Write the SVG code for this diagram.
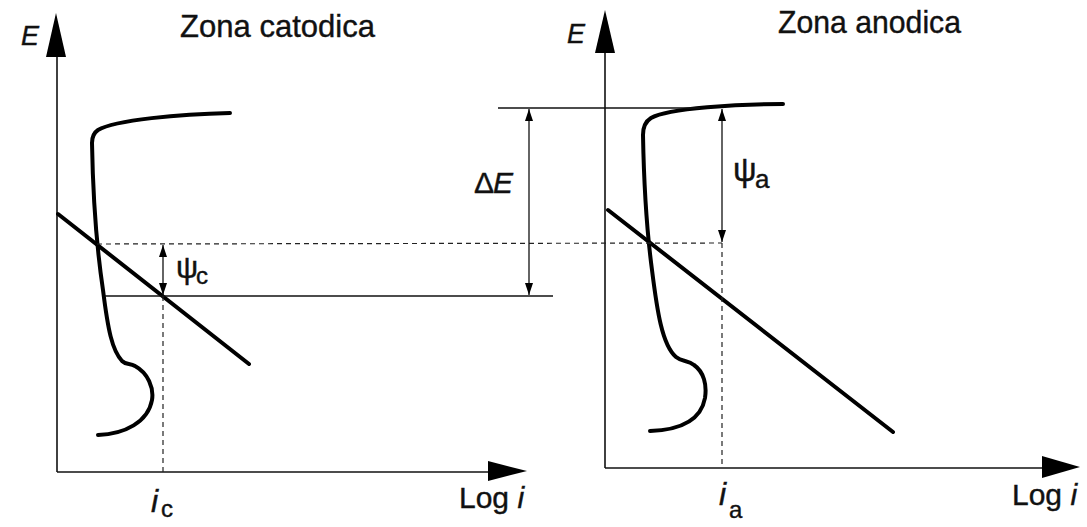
<svg xmlns="http://www.w3.org/2000/svg" width="1087" height="527" viewBox="0 0 1087 527">
<style>
.axis{stroke:#111;stroke-width:1.6;fill:none}
.thin{stroke:#111;stroke-width:1.3;fill:none}
.dash{stroke:#222;stroke-width:1.2;fill:none;stroke-dasharray:5 4}
.thick{stroke:#000;stroke-width:4;fill:none;stroke-linecap:round;stroke-linejoin:round}
.head{fill:#000}
.dim{stroke:#111;stroke-width:1.3;fill:none;marker-start:url(#ah);marker-end:url(#ah)}
text{font-family:"Liberation Sans",Arial,sans-serif;fill:#111;stroke:#111;stroke-width:0.4}
.it{font-style:italic}
</style>
<defs>
<marker id="ah" viewBox="0 0 12 8" refX="12" refY="4" markerWidth="12" markerHeight="8" markerUnits="userSpaceOnUse" orient="auto-start-reverse">
<path d="M0,0 L12,4 L0,8 z" fill="#000"/>
</marker>
</defs>
<rect width="1087" height="527" fill="#fff"/>

<g id="left-plot">
<g id="left-axes">
<line class="axis" x1="57" y1="472" x2="57" y2="50"/>
<polygon class="head" points="56,13 46,57 66,57"/>
<line class="axis" x1="57" y1="472" x2="492" y2="472"/>
<polygon class="head" points="527,471 488,461 488,481"/>
<text x="21" y="45" font-size="27" class="it">E</text>
<text x="459" y="508" font-size="30">Log <tspan class="it">i</tspan></text>
<text x="151" y="512" font-size="32" class="it">i</text>
<text x="161" y="517" font-size="24">c</text>
</g>
<text id="title-cat" x="180" y="37" font-size="32" textLength="195" lengthAdjust="spacingAndGlyphs">Zona catodica</text>
<path id="cathodic-curve" class="thick" d="M230,113 C180,114 115,120 98,130 Q92,134 92,143 C93,200 97,250 103,290 C108,330 112,350 122,361 C126,365 130,363 135,366 C148,373 154,388 152,400 C148,422 125,434 98,435"/>
<line id="cathodic-line" class="thick" x1="58" y1="214" x2="249" y2="364"/>
</g>

<g id="right-plot">
<g id="right-axes">
<line class="axis" x1="605" y1="468" x2="605" y2="48"/>
<polygon class="head" points="605,10 595,53 615,53"/>
<line class="axis" x1="605" y1="468" x2="1046" y2="468"/>
<polygon class="head" points="1080,467 1042,456 1042,478"/>
<text x="567" y="43" font-size="27" class="it">E</text>
<text x="1012" y="505" font-size="30">Log <tspan class="it">i</tspan></text>
<text x="719" y="505" font-size="32" class="it">i</text>
<text x="729" y="518" font-size="24">a</text>
</g>
<text id="title-an" x="778" y="33" font-size="32" textLength="183" lengthAdjust="spacingAndGlyphs">Zona anodica</text>
<path id="anodic-curve" class="thick" d="M783,104 C740,104 668,108 651,118 Q643,123 643,135 C644,190 648,240 652,270 C657,310 662,345 676,357 C682,362 688,360 694,365 C704,372 707,385 705,398 C701,420 680,430 650,431"/>
<line id="anodic-line" class="thick" x1="608" y1="210" x2="893" y2="432"/>
</g>

<g id="connectors">
<line class="thin" x1="498" y1="108" x2="700" y2="108"/>
<line class="thin" x1="105" y1="296" x2="553" y2="296"/>
<line class="dash" x1="97" y1="244" x2="722" y2="243"/>
<line class="dash" x1="163" y1="296" x2="163" y2="472"/>
<line class="dash" x1="722" y1="243" x2="722" y2="468"/>
<line class="dim" x1="163" y1="245" x2="163" y2="295"/>
<line class="dim" x1="529" y1="109" x2="529" y2="295"/>
<line class="dim" x1="722" y1="109" x2="722" y2="242"/>
</g>

<g id="labels">
<text x="176" y="278" font-size="31">ψ</text>
<text x="196" y="284" font-size="24">c</text>
<text x="733" y="181" font-size="33">ψ</text>
<text x="755" y="188" font-size="26">a</text>
<text x="474" y="193" font-size="30">Δ</text>
<text x="493" y="193" font-size="30" class="it">E</text>
</g>
</svg>
